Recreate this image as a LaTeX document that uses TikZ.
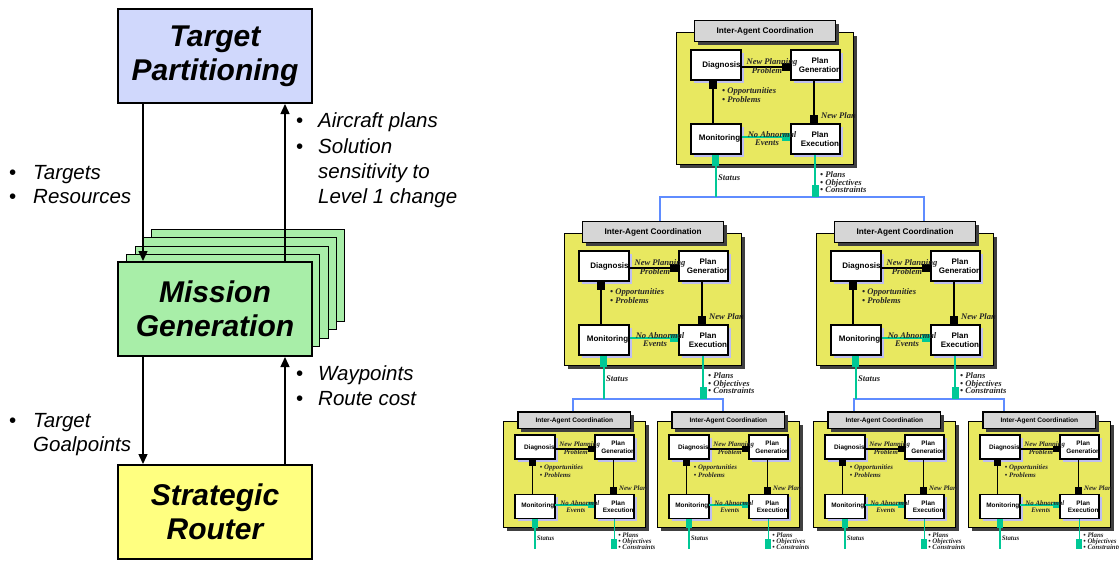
\documentclass[tikz,border=0pt]{standalone}
\usepackage{fontspec}
\setmainfont{Liberation Serif}
\setsansfont{Liberation Sans}
\usetikzlibrary{arrows.meta,shadows}
\definecolor{tpfill}{RGB}{208,216,252}
\definecolor{mgfill}{RGB}{168,238,168}
\definecolor{srfill}{RGB}{255,255,128}
\definecolor{modyel}{RGB}{232,232,96}
\definecolor{tealcol}{RGB}{0,200,150}
\definecolor{busc}{RGB}{95,140,255}
\definecolor{titlegray}{RGB}{214,214,214}
\definecolor{lavshadow}{RGB}{190,190,240}
\newcommand\bul[1]{\makebox[#1][l]{\upshape\textbullet}}
\def\modsc{1}
\tikzset{
  bigbox/.style={draw=black, line width=2pt, minimum width=194pt, minimum height=94pt,
    anchor=north west, inner sep=0pt, align=center,
    font=\sffamily\bfseries\itshape\fontsize{30}{34}\selectfont},
  stackbox/.style={draw=black, line width=1pt, fill=mgfill, minimum width=193pt,
    minimum height=92pt, anchor=north west, inner sep=0pt},
  bigarrow/.style={line width=1.4pt, -{Triangle[length=10pt,width=9pt]}},
  sidelabel/.style={anchor=base west, inner sep=0pt,
    font=\sffamily\itshape\fontsize{20.5}{24}\selectfont},
  ymod/.style={draw=black, line width=0.8pt, fill=modyel, anchor=north west, inner sep=0pt,
    minimum width=177pt, minimum height=132pt,
    drop shadow={shadow xshift=4pt, shadow yshift=-4pt, fill=black!75, opacity=1}},
  titlebox/.style={draw=black, line width=1.4pt, fill=titlegray, anchor=north west,
    inner sep=0pt, minimum width=141pt, minimum height=21pt,
    font=\sffamily\bfseries\fontsize{8.2}{9.6}\selectfont,
    drop shadow={shadow xshift=3.5pt, shadow yshift=-3.5pt, fill=black!75, opacity=1}},
  wbox/.style={draw=black, line width=1.5pt, fill=white, anchor=north west, inner sep=0pt,
    minimum height=30pt,
    drop shadow={shadow xshift=3pt, shadow yshift=-3pt, fill=lavshadow, opacity=1}},
  boxlab/.style={inner sep=0pt, align=center, font=\sffamily\bfseries\fontsize{8}{9.5}\selectfont},
  clab/.style={inner sep=0pt, text=black!85, font=\bfseries\itshape\fontsize{8.6}{9}\selectfont},
  blkc/.style={draw=black, line width=1.6pt*\modsc},
  tealconn/.style={draw=tealcol, line width=1.6pt*\modsc},
  bus/.style={draw=busc, line width=1.5pt},
  statline/.style={draw=tealcol, line width=1.8pt, {Square[length=11pt,width=7pt]}-},
  planline/.style={draw=tealcol, line width=1.8pt, -{Square[length=12pt,width=7pt]}},
  statlinesm/.style={draw=tealcol, line width=1.5pt, {Square[length=9pt,width=6pt]}-},
  planlinesm/.style={draw=tealcol, line width=1.5pt, -{Square[length=10pt,width=6pt]}},
}
% #1 x, #2 y, #3 scale, #4 name prefix
\newcommand\agentmod[4]{%
  \def\modsc{#3}%
  \pgfmathsetlengthmacro\sqs{8pt*#3}%
  \begin{scope}[shift={(#1,#2)}, scale=#3, transform shape]
    \node[ymod] (#4y) at (0,0) {};
    \node[titlebox] (#4t) at (18,-12) {Inter-Agent Coordination};
    \node[wbox, minimum width=50pt] (#4d) at (14,17) {};
    \node[wbox, minimum width=49pt] (#4g) at (114,17) {};
    \node[wbox, minimum width=50pt] (#4m) at (14,91) {};
    \node[wbox, minimum width=49pt] (#4e) at (114,91) {};
    \draw[blkc, -{Square[length=\sqs,width=\sqs]}] (#4d.east |- 0,35) -- (#4g.west |- 0,35);
    \draw[blkc, -{Square[length=\sqs,width=\sqs]}] (#4g.south -| 138,0) -- (#4e.north -| 138,0);
    \draw[blkc, -{Square[length=\sqs,width=\sqs]}] (#4m.north -| 37,0) -- (#4d.south -| 37,0);
    \draw[tealconn, -{Square[length=\sqs,width=\sqs]}] (#4m.east |- 0,105) -- (#4e.west |- 0,105);
    \node[boxlab] (#4dl) at (45.5,33) {Diagnosis};
    \node[boxlab] (#4gl) at (144,33) {Plan\\Generation};
    \node[boxlab] (#4ml) at (43.5,106) {Monitoring};
    \node[boxlab] (#4el) at (144,107) {Plan\\Execution};
    \node[clab] (#4la) at (96,30) {New Planning};
    \node[clab] (#4lb) at (91,39) {Problem};
    \node[clab, anchor=west] (#4lc) at (46,59) {\textbullet\ Opportunities};
    \node[clab, anchor=west] (#4ld) at (46,68) {\textbullet\ Problems};
    \node[clab, anchor=west] (#4le) at (145,84) {New Plan};
    \node[clab] (#4lf) at (96,103) {No Abnormal};
    \node[clab] (#4lg) at (91,111) {Events};
    \node[clab, anchor=west] (#4lh) at (42,146) {Status};
    \node[clab, anchor=west] (#4li) at (144,143) {\textbullet\ Plans};
    \node[clab, anchor=west] (#4lj) at (144,151) {\textbullet\ Objectives};
    \node[clab, anchor=west] (#4lk) at (144,158) {\textbullet\ Constraints};
  \end{scope}%
  \def\modsc{1}%
}

\begin{document}
\begin{tikzpicture}[x=1pt, y=-1pt]
\useasboundingbox (0,0) rectangle (1119,560);

% ---------------- left: three-level hierarchy ----------------
\node[bigbox, fill=tpfill] (tp) at (117,8) {Target\\Partitioning};
\node[stackbox] (mg4) at (151,229) {};
\node[stackbox] (mg3) at (143,237) {};
\node[stackbox] (mg2) at (135,246) {};
\node[stackbox] (mg1) at (126,254) {};
\node[bigbox, fill=mgfill] (mg) at (117,261) {Mission\\Generation};
\node[bigbox, fill=srfill] (sr) at (117,464) {Strategic\\Router};

\coordinate (axL) at (143,0);
\coordinate (axR) at (285,0);
\draw[bigarrow] (tp.south -| axL) -- (mg.north -| axL);
\draw[bigarrow] (mg.north -| axR) -- (tp.south -| axR);
\draw[bigarrow] (mg.south -| axL) -- (sr.north -| axL);
\draw[bigarrow] (sr.north -| axR) -- (mg.south -| axR);

\node[sidelabel] (s1) at (296,127) {\bul{22pt}Aircraft plans};
\node[sidelabel] (s2) at (296,153) {\bul{22pt}Solution};
\node[sidelabel] (s3) at (318,178) {sensitivity to};
\node[sidelabel] (s4) at (318,203) {Level 1 change};
\node[sidelabel] (s5) at (9,179) {\bul{24pt}Targets};
\node[sidelabel] (s6) at (9,203) {\bul{24pt}Resources};
\node[sidelabel] (s7) at (296,380) {\bul{22pt}Waypoints};
\node[sidelabel] (s8) at (296,405) {\bul{22pt}Route cost};
\node[sidelabel] (s9) at (9,427) {\bul{24pt}Target};
\node[sidelabel] (s10) at (33,451) {Goalpoints};

% ---------------- right: tree of agent modules ----------------
\agentmod{676}{32}{1}{T}
\agentmod{564}{233}{1}{P}
\agentmod{816}{233}{1}{Q}
\agentmod{503}{421}{0.8}{A}
\agentmod{657}{421}{0.8}{B}
\agentmod{813}{421}{0.8}{C}
\agentmod{968}{421}{0.8}{D}

% top bus
\coordinate (tb1) at (660,197);
\coordinate (tb2) at (924,197);
\draw[bus] (Pt.north -| tb1) -- (tb1) -- (tb2) -- (Qt.north -| tb2);
\draw[statline] (Tm.south) -- (Tm.south |- tb1);
\draw[planline] (Te.south) -- (Te.south |- tb1);

% second-level buses
\coordinate (pb1) at (573,399);
\coordinate (pb2) at (723,399);
\coordinate (qb1) at (854,399);
\coordinate (qb2) at (1004,399);
\draw[bus] (At.north -| pb1) -- (pb1) -- (pb2) -- (Bt.north -| pb2);
\draw[bus] (Ct.north -| qb1) -- (qb1) -- (qb2) -- (Dt.north -| qb2);
\draw[statline] (Pm.south) -- (Pm.south |- pb1);
\draw[planline] (Pe.south) -- (Pe.south |- pb1);
\draw[statline] (Qm.south) -- (Qm.south |- qb1);
\draw[planline] (Qe.south) -- (Qe.south |- qb1);

% third-level free ends
\coordinate (bot) at (0,549);
\draw[statlinesm] (Am.south) -- (Am.south |- bot);
\draw[planlinesm] (Ae.south) -- (Ae.south |- bot);
\draw[statlinesm] (Bm.south) -- (Bm.south |- bot);
\draw[planlinesm] (Be.south) -- (Be.south |- bot);
\draw[statlinesm] (Cm.south) -- (Cm.south |- bot);
\draw[planlinesm] (Ce.south) -- (Ce.south |- bot);
\draw[statlinesm] (Dm.south) -- (Dm.south |- bot);
\draw[planlinesm] (De.south) -- (De.south |- bot);
\end{tikzpicture}
\end{document}
